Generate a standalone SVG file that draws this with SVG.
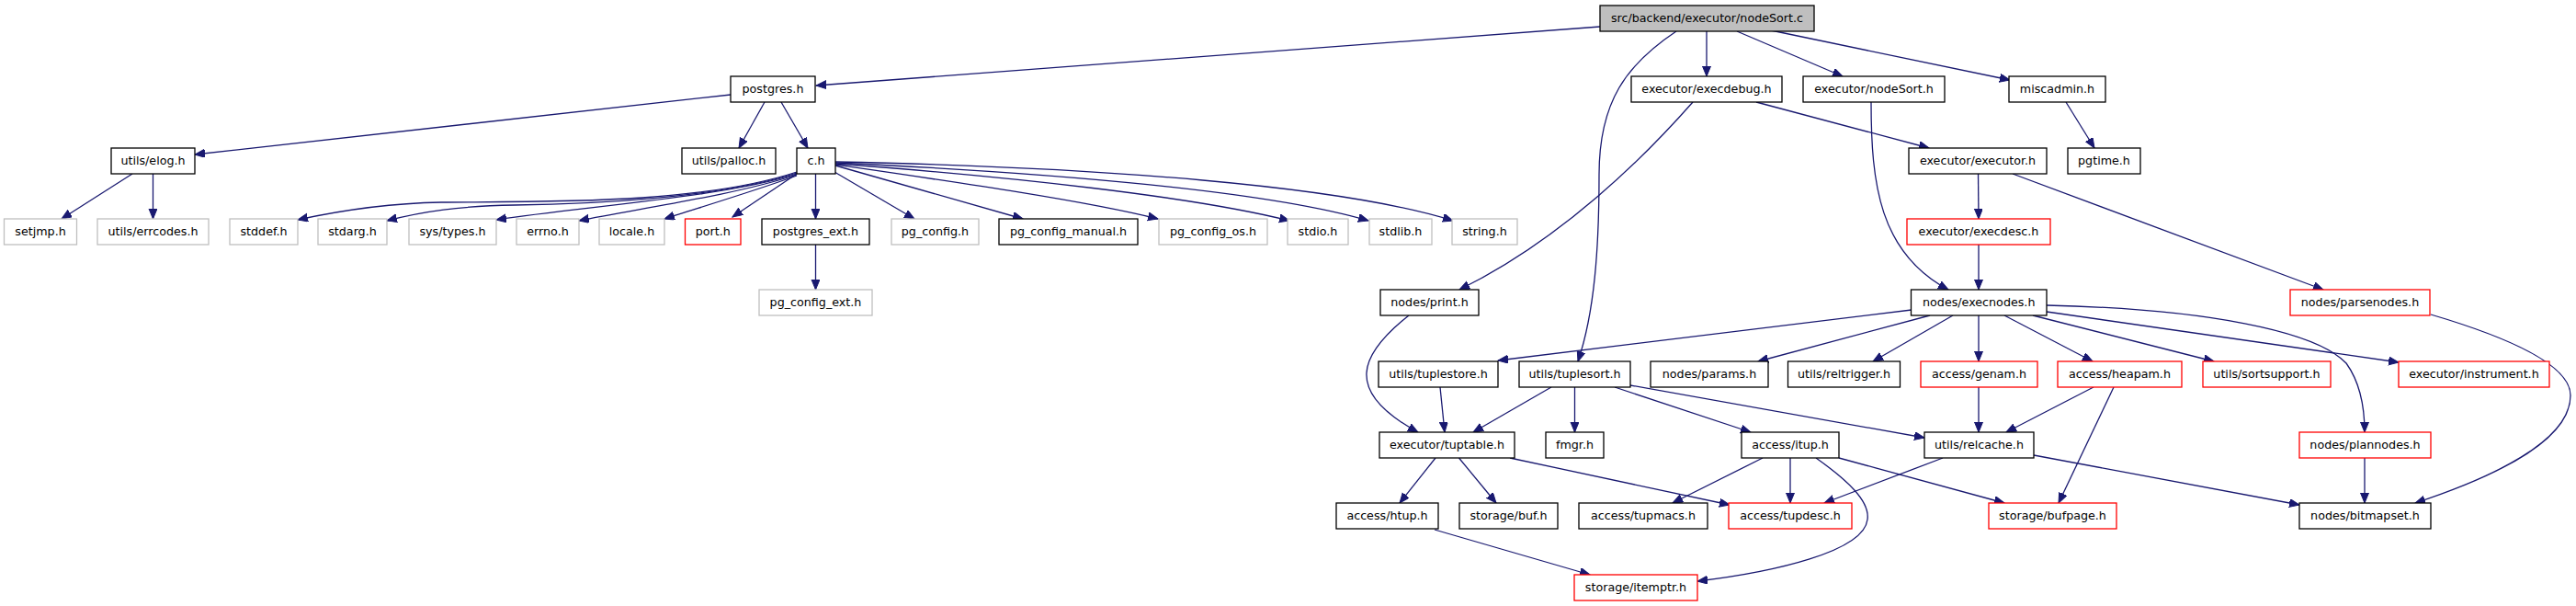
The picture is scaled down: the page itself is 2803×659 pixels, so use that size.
<svg xmlns="http://www.w3.org/2000/svg" width="2803" height="659" viewBox="0 0 2803 659">
<style>
.n rect{fill:#fff;stroke:#000;stroke-width:1.3}
.g rect{stroke:#bfbfbf}
.r rect{stroke:#f00}
.root rect{fill:#bfbfbf}
text{font-family:"DejaVu Sans",Verdana,sans-serif;font-size:12.7px;text-anchor:middle;fill:#000}
#edges path{fill:none;stroke:#191970;stroke-width:1.3;marker-end:url(#a)}
</style>
<defs>
<marker id="a" markerUnits="userSpaceOnUse" markerWidth="12" markerHeight="10" refX="11" refY="4.5" orient="auto">
<path d="M0,0 L11,4.5 L0,9 z" fill="#191970" stroke="#191970" stroke-width="1"/>
</marker>
</defs>
<rect width="2803" height="659" fill="#fff"/>
<g id="edges">
<path d="M1741,29 L888,93"/>
<path d="M1824,34 C1770,70 1740,110 1740,190 C1740,270 1735,340 1717,393"/>
<path d="M1857,34 L1857,83"/>
<path d="M1890,34 L2005,83"/>
<path d="M1927,33 L2187,87"/>
<path d="M795,103 L212,168"/>
<path d="M832,111 L804,161"/>
<path d="M850,111 L879,161"/>
<path d="M144,189 L67,238"/>
<path d="M166.5,189 L166.5,238"/>
<path d="M867,187 C760,222 600,219 480,220 C420,221 370,229 324,239"/>
<path d="M867,188 C780,216 640,222 560,223 C500,224 460,230 421,240"/>
<path d="M867,189 C790,214 640,224 540,239"/>
<path d="M867,190 C800,212 700,226 630,240"/>
<path d="M867,191 C820,208 760,226 723,238"/>
<path d="M867,189 L797,236"/>
<path d="M887.5,189 L887.5,238"/>
<path d="M908,187 L995,238"/>
<path d="M909,180 L1113,238"/>
<path d="M909,179 C1040,198 1180,218 1260,238"/>
<path d="M909,178 C1100,192 1300,214 1403,240"/>
<path d="M909,177 C1150,188 1380,208 1489,240"/>
<path d="M909,176 C1200,182 1460,202 1581,240"/>
<path d="M887.5,266 L887.5,315"/>
<path d="M1911,111 L2099,161"/>
<path d="M1842,111 C1790,170 1700,260 1588,315"/>
<path d="M2036,111 C2036,200 2045,275 2120,315"/>
<path d="M2248,111 L2279,161"/>
<path d="M2152.5,189 L2153,238"/>
<path d="M2190,189 L2528,315"/>
<path d="M2153,266 L2153,315"/>
<path d="M1533,343 C1480,385 1460,425 1543,470"/>
<path d="M2080,337 L1630,392"/>
<path d="M2100,343 L1913,393"/>
<path d="M2125,343 L2038,393"/>
<path d="M2153,343 L2153,393"/>
<path d="M2181,343 L2277,393"/>
<path d="M2212,343 L2409,393"/>
<path d="M2227,339 L2610,394"/>
<path d="M2227,332 C2400,336 2520,360 2553,395 C2571,420 2573,450 2573,470"/>
<path d="M2645,342 C2740,370 2797,400 2797,430 C2797,480 2710,520 2628,547"/>
<path d="M1567,421 L1572,470"/>
<path d="M1688,421 L1603,470"/>
<path d="M1713.5,421 L1713.5,470"/>
<path d="M1757,421 L1905,470"/>
<path d="M1774,419 L2094,476"/>
<path d="M2153,421 L2153,470"/>
<path d="M2278,421 L2183,470"/>
<path d="M2300,421 L2240,547"/>
<path d="M1562,498 L1523,547"/>
<path d="M1587.5,498 L1628,547"/>
<path d="M1643,498 L1882,549"/>
<path d="M1918,498 L1820,547"/>
<path d="M1948,498 L1948,547"/>
<path d="M1976,498 C2010,522 2035,545 2032,565 C2028,600 1930,622 1847,632"/>
<path d="M2001,498 L2181,547"/>
<path d="M2114,498 L1985,547"/>
<path d="M2213,495 L2502,549"/>
<path d="M2573,498 L2573,547"/>
<path d="M1561,576 L1730,625"/>
</g>
<g id="nodeSort_c" class="n root"><rect x="1741" y="6" width="233" height="28"/><text x="1857.5" y="24">src/backend/executor/nodeSort.c</text></g>
<g id="postgres_h" class="n"><rect x="795" y="83" width="92" height="28"/><text x="841" y="101">postgres.h</text></g>
<g id="execdebug_h" class="n"><rect x="1775" y="83" width="164" height="28"/><text x="1857" y="101">executor/execdebug.h</text></g>
<g id="nodeSort_h" class="n"><rect x="1962" y="83" width="154" height="28"/><text x="2039" y="101">executor/nodeSort.h</text></g>
<g id="miscadmin_h" class="n"><rect x="2186" y="83" width="105" height="28"/><text x="2238.5" y="101">miscadmin.h</text></g>
<g id="elog_h" class="n"><rect x="121" y="161" width="91" height="28"/><text x="166.5" y="179">utils/elog.h</text></g>
<g id="palloc_h" class="n"><rect x="742" y="161" width="102" height="28"/><text x="793" y="179">utils/palloc.h</text></g>
<g id="c_h" class="n"><rect x="867" y="161" width="42" height="28"/><text x="888" y="179">c.h</text></g>
<g id="executor_h" class="n"><rect x="2077" y="161" width="150" height="28"/><text x="2152" y="179">executor/executor.h</text></g>
<g id="pgtime_h" class="n"><rect x="2250" y="161" width="79" height="28"/><text x="2289.5" y="179">pgtime.h</text></g>
<g id="setjmp_h" class="n g"><rect x="4.5" y="238" width="79" height="28"/><text x="44" y="256">setjmp.h</text></g>
<g id="errcodes_h" class="n g"><rect x="106" y="238" width="121" height="28"/><text x="166.5" y="256">utils/errcodes.h</text></g>
<g id="stddef_h" class="n g"><rect x="250" y="238" width="74" height="28"/><text x="287" y="256">stddef.h</text></g>
<g id="stdarg_h" class="n g"><rect x="346" y="238" width="75" height="28"/><text x="383.5" y="256">stdarg.h</text></g>
<g id="types_h" class="n g"><rect x="445" y="238" width="95" height="28"/><text x="492.5" y="256">sys/types.h</text></g>
<g id="errno_h" class="n g"><rect x="562" y="238" width="68" height="28"/><text x="596" y="256">errno.h</text></g>
<g id="locale_h" class="n g"><rect x="652" y="238" width="71" height="28"/><text x="687.5" y="256">locale.h</text></g>
<g id="port_h" class="n r"><rect x="745.5" y="238" width="60.5" height="28"/><text x="775.75" y="256">port.h</text></g>
<g id="postgres_ext_h" class="n"><rect x="829" y="238" width="117" height="28"/><text x="887.5" y="256">postgres_ext.h</text></g>
<g id="pg_config_h" class="n g"><rect x="970" y="238" width="95" height="28"/><text x="1017.5" y="256">pg_config.h</text></g>
<g id="pg_config_manual_h" class="n"><rect x="1087" y="238" width="151" height="28"/><text x="1162.5" y="256">pg_config_manual.h</text></g>
<g id="pg_config_os_h" class="n g"><rect x="1261" y="238" width="118" height="28"/><text x="1320" y="256">pg_config_os.h</text></g>
<g id="stdio_h" class="n g"><rect x="1401" y="238" width="66" height="28"/><text x="1434" y="256">stdio.h</text></g>
<g id="stdlib_h" class="n g"><rect x="1490" y="238" width="68" height="28"/><text x="1524" y="256">stdlib.h</text></g>
<g id="string_h" class="n g"><rect x="1580" y="238" width="71" height="28"/><text x="1615.5" y="256">string.h</text></g>
<g id="execdesc_h" class="n r"><rect x="2075" y="238" width="156" height="28"/><text x="2153" y="256">executor/execdesc.h</text></g>
<g id="pg_config_ext_h" class="n g"><rect x="826" y="315" width="123" height="28"/><text x="887.5" y="333">pg_config_ext.h</text></g>
<g id="print_h" class="n"><rect x="1502" y="315" width="107" height="28"/><text x="1555.5" y="333">nodes/print.h</text></g>
<g id="execnodes_h" class="n"><rect x="2079.5" y="315" width="147.5" height="28"/><text x="2153.25" y="333">nodes/execnodes.h</text></g>
<g id="parsenodes_h" class="n r"><rect x="2492" y="315" width="152" height="28"/><text x="2568" y="333">nodes/parsenodes.h</text></g>
<g id="tuplestore_h" class="n"><rect x="1500" y="393" width="130" height="28"/><text x="1565" y="411">utils/tuplestore.h</text></g>
<g id="tuplesort_h" class="n"><rect x="1653" y="393" width="121" height="28"/><text x="1713.5" y="411">utils/tuplesort.h</text></g>
<g id="params_h" class="n"><rect x="1796" y="393" width="128" height="28"/><text x="1860" y="411">nodes/params.h</text></g>
<g id="reltrigger_h" class="n"><rect x="1945.5" y="393" width="122" height="28"/><text x="2006.5" y="411">utils/reltrigger.h</text></g>
<g id="genam_h" class="n r"><rect x="2090" y="393" width="127" height="28"/><text x="2153.5" y="411">access/genam.h</text></g>
<g id="heapam_h" class="n r"><rect x="2239" y="393" width="135" height="28"/><text x="2306.5" y="411">access/heapam.h</text></g>
<g id="sortsupport_h" class="n r"><rect x="2397" y="393" width="139" height="28"/><text x="2466.5" y="411">utils/sortsupport.h</text></g>
<g id="instrument_h" class="n r"><rect x="2610" y="393" width="164" height="28"/><text x="2692" y="411">executor/instrument.h</text></g>
<g id="tuptable_h" class="n"><rect x="1501" y="470" width="147" height="28"/><text x="1574.5" y="488">executor/tuptable.h</text></g>
<g id="fmgr_h" class="n"><rect x="1682" y="470" width="63" height="28"/><text x="1713.5" y="488">fmgr.h</text></g>
<g id="itup_h" class="n"><rect x="1895" y="470" width="106" height="28"/><text x="1948" y="488">access/itup.h</text></g>
<g id="relcache_h" class="n"><rect x="2094" y="470" width="119" height="28"/><text x="2153.5" y="488">utils/relcache.h</text></g>
<g id="plannodes_h" class="n r"><rect x="2502" y="470" width="143" height="28"/><text x="2573.5" y="488">nodes/plannodes.h</text></g>
<g id="htup_h" class="n"><rect x="1454" y="547" width="111" height="28"/><text x="1509.5" y="565">access/htup.h</text></g>
<g id="buf_h" class="n"><rect x="1588" y="547" width="107" height="28"/><text x="1641.5" y="565">storage/buf.h</text></g>
<g id="tupmacs_h" class="n"><rect x="1718" y="547" width="140" height="28"/><text x="1788" y="565">access/tupmacs.h</text></g>
<g id="tupdesc_h" class="n r"><rect x="1881" y="547" width="134" height="28"/><text x="1948" y="565">access/tupdesc.h</text></g>
<g id="bufpage_h" class="n r"><rect x="2164" y="547" width="139" height="28"/><text x="2233.5" y="565">storage/bufpage.h</text></g>
<g id="bitmapset_h" class="n"><rect x="2502" y="547" width="143" height="28"/><text x="2573.5" y="565">nodes/bitmapset.h</text></g>
<g id="itemptr_h" class="n r"><rect x="1713" y="625" width="134" height="28"/><text x="1780" y="643">storage/itemptr.h</text></g>
</svg>
